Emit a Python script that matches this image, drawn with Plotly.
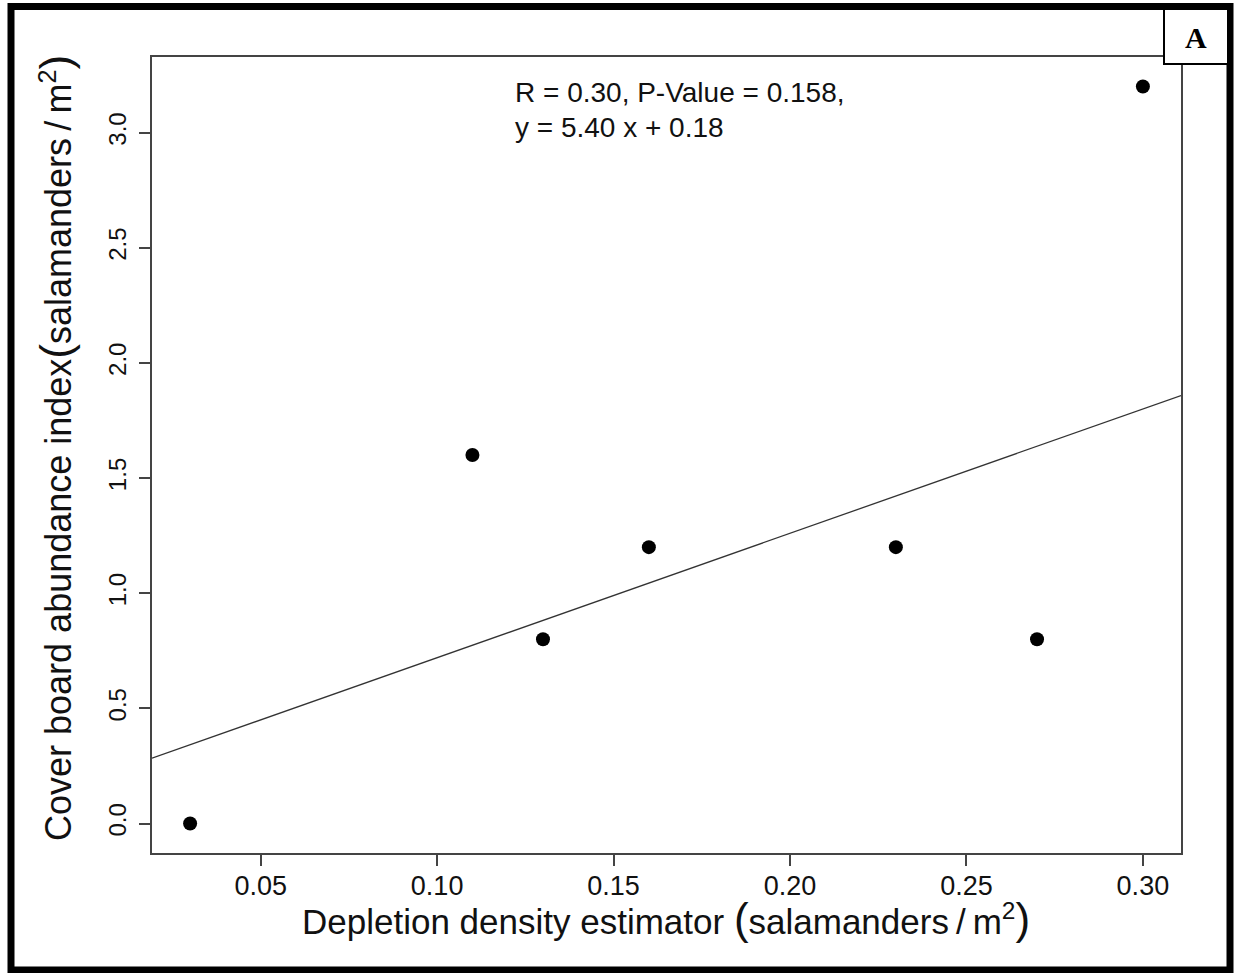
import plotly.graph_objects as go

# Data
depletion_density = [0.03, 0.11, 0.13, 0.16, 0.23, 0.27, 0.30]
coverboard_index = [0.0, 1.6, 0.8, 1.2, 1.2, 0.8, 3.2]
slope = 5.40
intercept = 0.18
x_ticks = [0.05, 0.10, 0.15, 0.20, 0.25, 0.30]
y_ticks = [0.0, 0.5, 1.0, 1.5, 2.0, 2.5, 3.0]
stats_line1 = "R = 0.30, P-Value = 0.158,"
stats_line2 = "y = 5.40 x + 0.18"
panel_label = "A"

W, H = 1239, 973
L, R, T, B = 152, 1181, 57, 853
pw, ph = R - L, B - T

def px(x):
    return (x - L) / pw

def py(y):
    return (B - y) / ph

# R-style 4% range extension
xmin, xmax = min(depletion_density), max(depletion_density)
ymin, ymax = min(coverboard_index), max(coverboard_index)
xr = [xmin - 0.04 * (xmax - xmin), xmax + 0.04 * (xmax - xmin)]
yr = [ymin - 0.04 * (ymax - ymin), ymax + 0.04 * (ymax - ymin)]

fig = go.Figure()
fig.add_trace(go.Scatter(
    x=xr, y=[slope * v + intercept for v in xr], mode="lines",
    line=dict(color="#333333", width=1.3), showlegend=False, hoverinfo="skip"))
fig.add_trace(go.Scatter(
    x=depletion_density, y=coverboard_index, mode="markers",
    marker=dict(color="black", size=14), showlegend=False))

font = "Liberation Sans, Arial, sans-serif"
axis_common = dict(showgrid=False, zeroline=False, showline=True, mirror=True,
                   linecolor="#444444", linewidth=1.5, ticks="outside", ticklen=11,
                   tickwidth=1.5, tickcolor="#444444")

fig.update_layout(
    width=W, height=H,
    margin=dict(l=L, r=W - R, t=T, b=H - B),
    paper_bgcolor="white", plot_bgcolor="white",
    xaxis=dict(range=xr, tickvals=x_ticks, tickformat=".2f", ticklabelstandoff=-3,
               tickfont=dict(family=font, size=27, color="#111111"), **axis_common),
    yaxis=dict(range=yr, tickvals=y_ticks, tickformat=".1f", tickangle=-90,
               ticklabelstandoff=4,
               tickfont=dict(family=font, size=24, color="#111111"), **axis_common),
    font=dict(family=font, color="#111111"),
)

def big(c):
    return '<span style="font-size:44px">' + c + '</span>'

unit = "salamanders\u2009/\u2009m<sup>2</sup>"
annotations = [
    dict(text=stats_line1, x=px(513), y=py(92), xanchor="left", yanchor="middle",
         font=dict(size=28)),
    dict(text=stats_line2, x=px(513), y=py(127), xanchor="left", yanchor="middle",
         font=dict(size=28)),
    dict(text="Depletion density estimator " + big("(") + unit + big(")"),
         x=px(666), y=py(918), xanchor="center", yanchor="middle", font=dict(size=35)),
    dict(text="Cover board abundance index" + big("(") + unit + big(")"),
         x=px(55), y=py(448), xanchor="center", yanchor="middle", textangle=-90,
         font=dict(size=36)),
    dict(text="<b>" + panel_label + "</b>", x=px(1196), y=py(38), xanchor="center",
         yanchor="middle", font=dict(family="Liberation Serif, Times New Roman, serif",
                                     size=30, color="black")),
]
for a in annotations:
    a.update(xref="paper", yref="paper", showarrow=False)
fig.update_layout(annotations=annotations)

fig.add_shape(type="rect", xref="paper", yref="paper",
              x0=px(11), x1=px(1230), y0=py(970), y1=py(6.5),
              line=dict(color="black", width=7), fillcolor="rgba(0,0,0,0)", layer="above")
fig.add_shape(type="rect", xref="paper", yref="paper",
              x0=px(1164), x1=px(1228), y0=py(64), y1=py(9),
              line=dict(color="black", width=2), fillcolor="white", layer="above")

fig.write_html("out.html")
